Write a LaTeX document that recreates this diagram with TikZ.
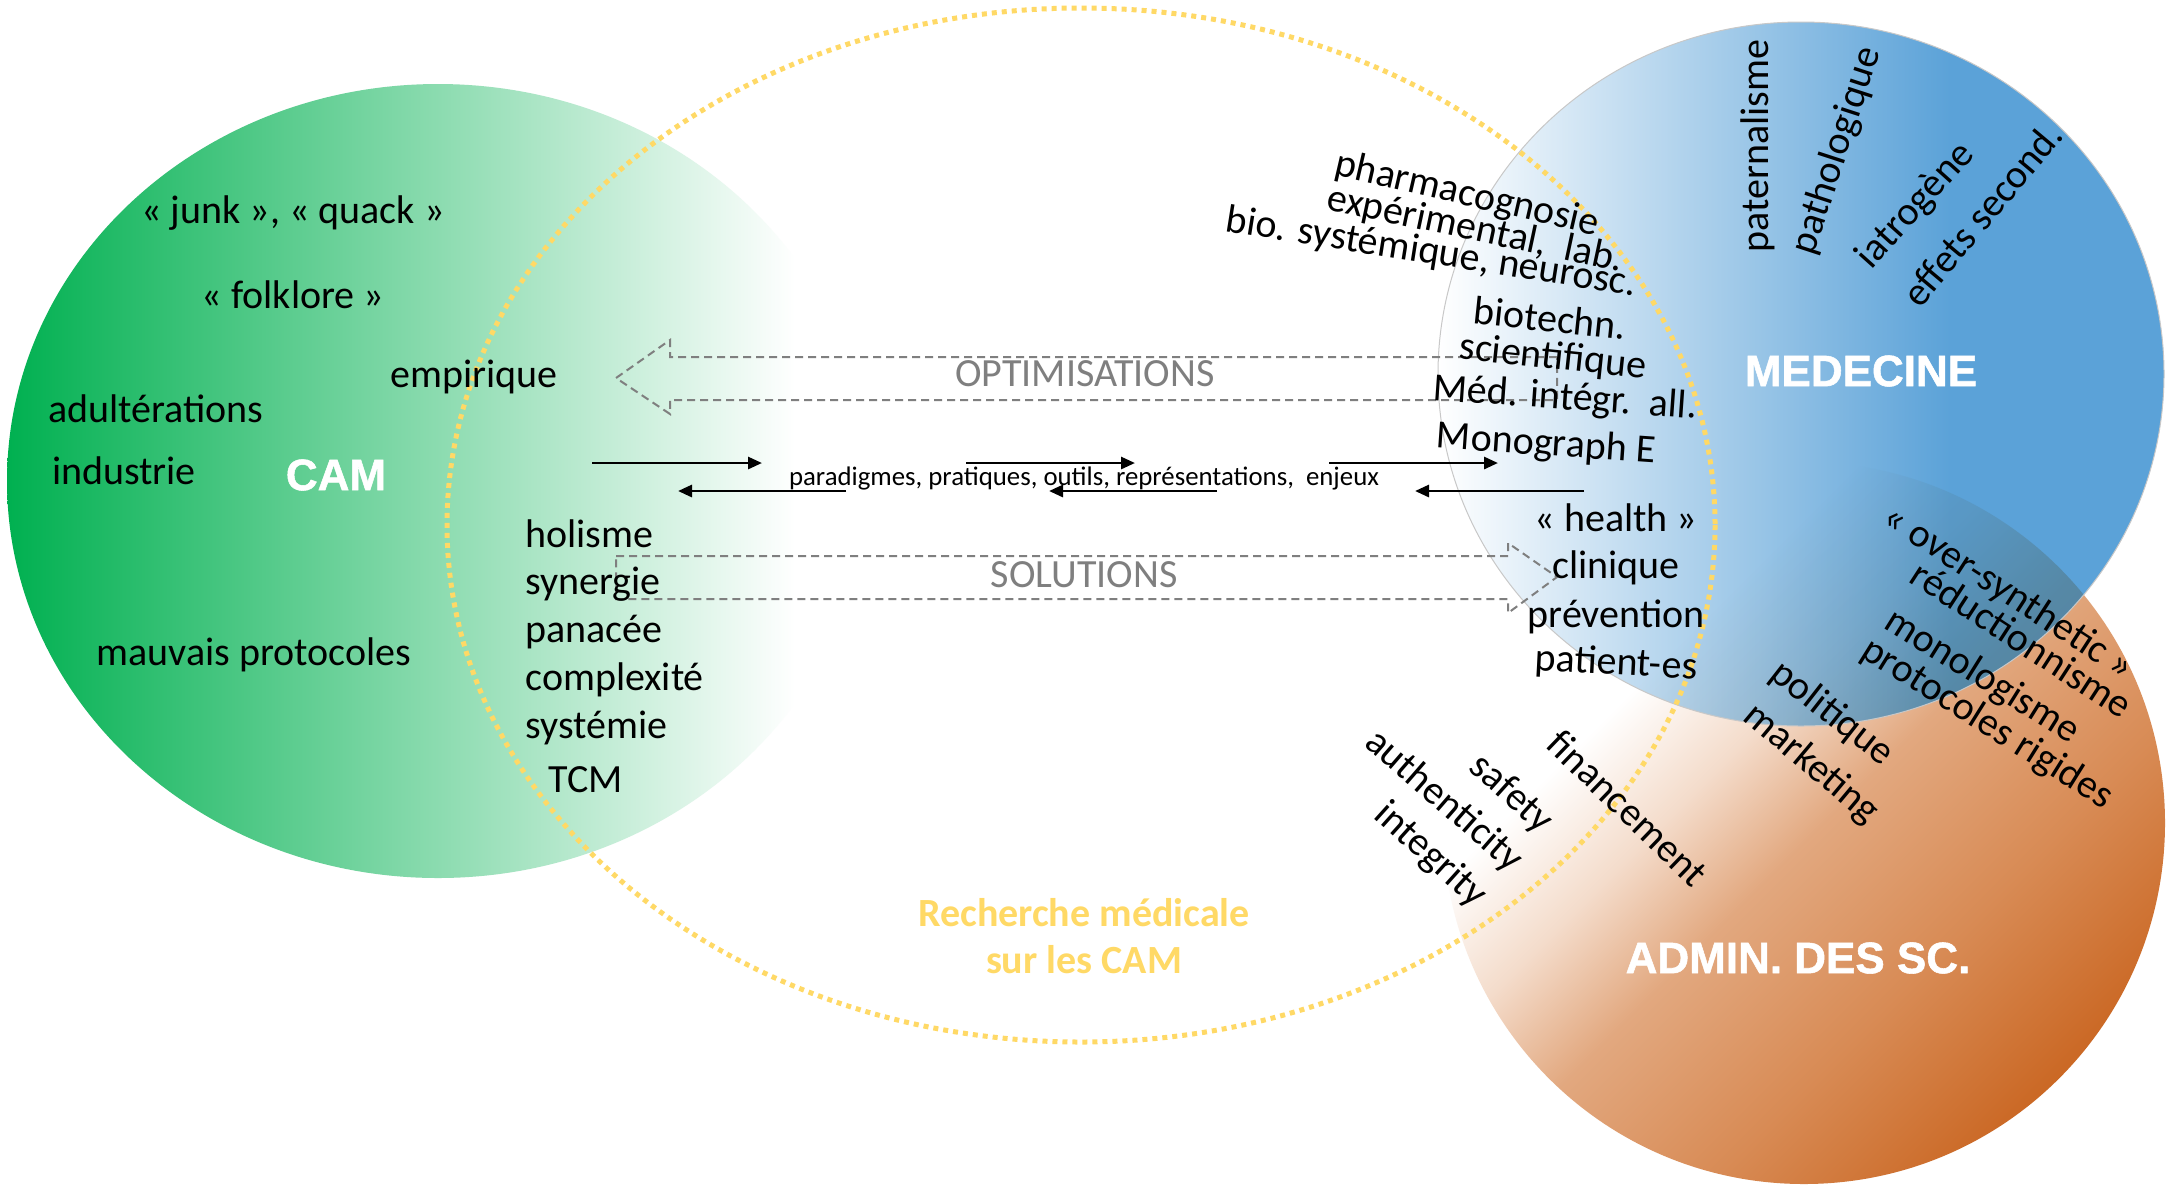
\documentclass[tikz,border=0pt]{standalone}
\usepackage{fontspec}
\setmainfont{Carlito}
\newfontfamily\headfont{Liberation Sans}[BoldFeatures={FakeBold=1.2}]
\usetikzlibrary{arrows.meta,shadings}
\definecolor{camgreen}{HTML}{00B050}
\definecolor{medblue}{HTML}{5BA2D8}
\definecolor{admorange}{HTML}{C55A11}
\definecolor{admdeep}{HTML}{D88B55}
\definecolor{admmid}{HTML}{E2A87F}
\definecolor{admlight}{HTML}{F4DCCB}
\definecolor{ryellow}{HTML}{FFD966}
\definecolor{arrowgrey}{HTML}{7F7F7F}
\definecolor{rimgrey}{HTML}{C8C8C8}
\pgfdeclarehorizontalshading{admshade}{100bp}{color(0bp)=(white); color(35bp)=(white); color(43bp)=(admlight); color(51bp)=(admmid); color(63bp)=(admdeep); color(80bp)=(admorange); color(100bp)=(admorange)}
\begin{document}
\begin{tikzpicture}[x=0.5pt,y=-0.5pt,
  lbl/.style={font=\fontsize{20}{24}\selectfont, inner sep=0pt},
  titlelbl/.style={font=\headfont\bfseries\fontsize{22}{26}\selectfont, text=white, inner sep=0pt},
  bigarrow/.style={draw=arrowgrey, line width=1pt, dash pattern=on 4pt off 2.5pt},
  flowarrow/.style={line width=1.4pt, -{Triangle[length=7pt,width=6pt]}},
  greylbl/.style={font=\fontsize{20}{24}\selectfont, text=arrowgrey, inner sep=0pt},
]
\fill[white] (0,0) rectangle (2179,1191);
\useasboundingbox (0,0) rectangle (2179,1191);

% CAM ellipse
\begin{scope}
  \clip (438,481) ellipse [x radius=431, y radius=397];
  \shade[left color=camgreen, right color=white] (7,84) rectangle (795,878);
\end{scope}

% ADMIN circle
\begin{scope}
  \clip (1804,823) circle [radius=361];
  \shade[shading=admshade, shading angle=-45] (1443,462) rectangle (2165,1184);
\end{scope}

% MEDECINE circle
\begin{scope}
  \clip (1801,374) ellipse [x radius=363, y radius=352];
  \shade[left color=white, right color=medblue] (1438,10) rectangle (1950,740);
  \fill[medblue] (1949,10) rectangle (2170,740);
  % overlap tint
  \clip (1804,823) circle [radius=361];
  \begin{scope}[blend mode=multiply]
    \shade[shading=admshade, shading angle=-45, opacity=0.45] (1443,462) rectangle (2165,1184);
  \end{scope}
\end{scope}
\draw[rimgrey, line width=0.5pt] (1801,374) ellipse [x radius=363, y radius=352];

% research ellipse
\draw[ryellow, line width=2.5pt, dash pattern=on 2.5pt off 2.5pt] (1081,525) ellipse [x radius=634, y radius=517];

% big arrows
\draw[bigarrow] (1557,357) -- (670,357) -- (670,340) -- (616,378) -- (670,414) -- (670,400) -- (1557,400) -- cycle;
\node[greylbl] (optim) at (1085,374) {OPTIMISATIONS};
\draw[bigarrow] (616,556) -- (1508,556) -- (1508,543) -- (1557,577) -- (1508,613) -- (1508,599) -- (616,599) -- cycle;
\node[greylbl] (solu) at (1084,575) {SOLUTIONS};

% small flow arrows
\coordinate (ra1) at (592,463);  \coordinate (rb1) at (762,463);
\coordinate (ra2) at (966,463);  \coordinate (rb2) at (1135,463);
\coordinate (ra3) at (1329,463); \coordinate (rb3) at (1498,463);
\coordinate (la1) at (846,491);  \coordinate (lb1) at (678,491);
\coordinate (la2) at (1217,491); \coordinate (lb2) at (1049,491);
\coordinate (la3) at (1584,491); \coordinate (lb3) at (1415,491);
\draw[flowarrow] (ra1) -- (rb1);
\draw[flowarrow] (ra2) -- (rb2);
\draw[flowarrow] (ra3) -- (rb3);
\draw[flowarrow] (la1) -- (lb1);
\draw[flowarrow] (la2) -- (lb2);
\draw[flowarrow] (la3) -- (lb3);
\node[font=\fontsize{13.4}{16}\selectfont, inner sep=0pt] (para) at (1084,478) {paradigmes, pratiques, outils, représentations,~~enjeux};

% CAM texts
\node[lbl] (junk) at (293,213) {« junk », « quack »};
\node[lbl] (folk) at (293,295) {« folklore »};
\node[lbl] (adult) at (156,409) {adultérations};
\node[lbl] (indus) at (124,471) {industrie};
\node[titlelbl] (cam) at (336,475) {CAM};
\node[lbl] (empi) at (474,377) {empirique};
\node[lbl] (mauv) at (254,655) {mauvais protocoles};
\node[lbl, anchor=west] (holi) at (525,534) {holisme};
\node[lbl, anchor=west] (syne) at (525,584) {synergie};
\node[lbl, anchor=west] (pana) at (525,632) {panacée};
\node[lbl, anchor=west] (comp) at (525,680) {complexité};
\node[lbl, anchor=west] (syst) at (525,728) {systémie};
\node[lbl, anchor=west] (tcm) at (548,780) {TCM};

% MEDECINE texts
\node[lbl, rotate=-13] (phar) at (1467,195) {pharmacognosie};
\node[lbl, rotate=-12] (expe) at (1475,230) {expérimental,~~lab.};
\node[lbl, rotate=-9] (bios) at (1431,253) {bio. systémique, neurosc.};
\node[lbl, rotate=-6] (biot) at (1550,318) {biotechn.};
\node[lbl, rotate=-6] (scie) at (1553,358) {scientifique};
\node[lbl, rotate=-4] (medi) at (1565,399) {Méd. intégr.~~all.};
\node[lbl, rotate=-4] (mono) at (1546,445) {Monograph E};
\node[lbl] (heal) at (1616,518) {« health »};
\node[lbl] (clin) at (1616,568) {clinique};
\node[lbl] (prev) at (1616,617) {prévention};
\node[lbl, rotate=-3] (pati) at (1616,664) {patient-es};
\node[lbl, rotate=90] (pate) at (1758,146) {paternalisme};
\node[lbl, rotate=72] (path) at (1837,151) {pathologique};
\node[lbl, rotate=48] (iatr) at (1916,206) {iatrogène};
\node[lbl, rotate=50] (effe) at (1982,214) {effets second.};
\node[titlelbl] (med) at (1861,371) {MEDECINE};

% ADMIN texts
\node[lbl, rotate=-33] (over) at (2008,593) {« over-synthetic »};
\node[lbl, rotate=-33] (redu) at (2022,639) {réductionnisme};
\node[lbl, rotate=-32] (mono2) at (1982,677) {monologisme};
\node[lbl, rotate=-32] (prot) at (1987,724) {protocoles rigides};
\node[lbl, rotate=-38] (poli) at (1832,714) {politique};
\node[lbl, rotate=-40] (mark) at (1811,764) {marketing};
\node[lbl, rotate=-44] (fina) at (1628,808) {financement};
\node[lbl, rotate=-42] (safe) at (1511,794) {safety};
\node[lbl, rotate=-41] (auth) at (1444,801) {authenticity};
\node[lbl, rotate=-42] (inte) at (1430,855) {integrity};
\node[titlelbl] (adm) at (1798,958) {ADMIN. DES SC.};

% research label
\node[font=\bfseries\fontsize{20}{23.5}\selectfont, text=ryellow, align=center, inner sep=0pt] (rech) at (1084,936) {Recherche médicale\\sur les CAM};
\end{tikzpicture}
\end{document}
